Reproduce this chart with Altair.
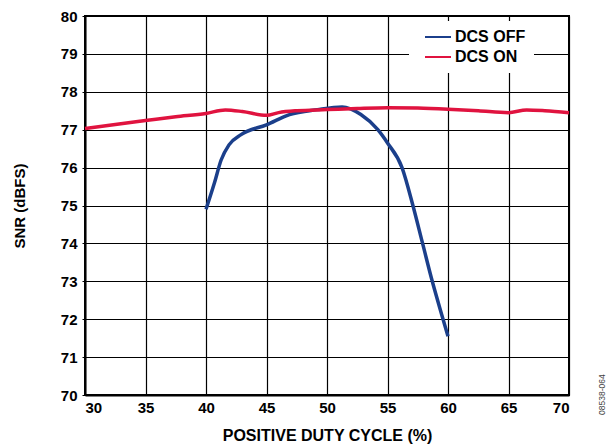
import altair as alt
import pandas as pd

x_off = [40, 40.7, 41.25, 41.9, 42.9, 45, 46.9, 49.2, 51.25, 52.8, 54.2, 55, 56.2, 57.1, 57.9, 58.7, 59.5, 60]
y_off = [74.9, 75.6, 76.2, 76.6, 76.87, 77.13, 77.4, 77.53, 77.6, 77.4, 77.0, 76.65, 76.0, 75.0, 74.0, 73.0, 72.1, 71.55]

x_on = [30, 32.5, 35, 37.5, 40, 41.6, 43, 45, 46, 47.5, 50, 52.5, 55, 57.5, 60, 62.5, 65, 66.5, 68, 70]
y_on = [77.03, 77.14, 77.24, 77.34, 77.43, 77.52, 77.48, 77.38, 77.45, 77.5, 77.53, 77.56, 77.58, 77.57, 77.54, 77.5, 77.45, 77.52, 77.5, 77.45]

series = ["DCS OFF", "DCS ON"]
colors = ["#1b3f8b", "#e0133f"]

df = pd.concat([
    pd.DataFrame({"x": x_off, "y": y_off, "s": series[0]}),
    pd.DataFrame({"x": x_on, "y": y_on, "s": series[1]}),
])

FONT = "Liberation Sans"
W, H = 484, 379

lines = alt.Chart(df).mark_line(strokeWidth=3.5, interpolate="monotone").encode(
    x=alt.X("x:Q", scale=alt.Scale(domain=[30, 70], nice=False),
            axis=alt.Axis(title="POSITIVE DUTY CYCLE (%)", values=list(range(30, 71, 5)),
                          tickSize=0, labelPadding=5, titlePadding=12,
                          labelFontSize=15, titleFontSize=16)),
    y=alt.Y("y:Q", scale=alt.Scale(domain=[70, 80], nice=False),
            axis=alt.Axis(title="SNR (dBFS)", values=list(range(70, 81)),
                          tickSize=3, labelPadding=5, titlePadding=33,
                          labelFontSize=15, titleFontSize=15)),
    color=alt.Color("s:N", scale=alt.Scale(domain=series, range=colors),
                    legend=alt.Legend(title=None, orient="none", legendX=324, legendY=5,
                                      fillColor="white", padding=8, symbolType="M0,0H5.2",
                                      symbolStrokeWidth=2, symbolSize=100,
                                      labelFontSize=16, labelFont=FONT, labelFontWeight="bold",
                                      labelColor="black", labelOffset=22, rowPadding=4)),
    order=alt.Order("x:Q"),
)

code = alt.Chart(pd.DataFrame({"t": ["08538-064"]})).mark_text(
    angle=270, fontSize=8.5, font=FONT, color="#444444", align="left", baseline="middle"
).encode(text="t:N", x=alt.value(517), y=alt.value(399))

chart = (lines + code).properties(
    width=W, height=H, autosize="none",
    padding={"left": 77, "top": 8, "right": 39, "bottom": 60},
).configure_view(
    stroke="black", strokeWidth=2
).configure_axis(
    grid=True, gridColor="black", gridWidth=1.2, gridOpacity=1,
    domain=True, domainColor="black", domainWidth=2,
    tickColor="black",
    labelFont=FONT, labelFontWeight="bold", labelColor="black",
    titleFont=FONT, titleFontWeight="bold", titleColor="black",
)

chart.save("out.html", embed_options={"renderer": "svg", "actions": False})
